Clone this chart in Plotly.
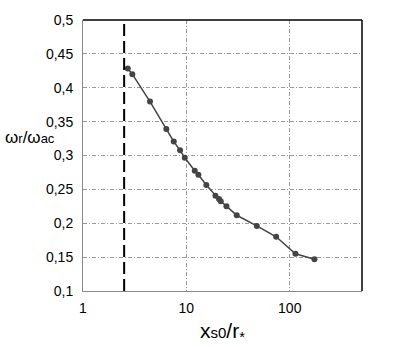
import plotly.graph_objects as go

x_vals = [2.71, 3.0, 4.45, 6.4, 7.55, 8.69, 9.65, 12.05, 13.07, 15.6, 19.1, 20.7, 21.5, 24.4, 30.7, 48.0, 73.9, 113.5, 173.4]
y_vals = [0.4285, 0.420, 0.3796, 0.339, 0.3206, 0.3076, 0.2967, 0.2774, 0.2717, 0.2564, 0.2406, 0.2357, 0.2324, 0.2252, 0.2118, 0.196, 0.180, 0.155, 0.147]
limit_x = 2.5
x_ticks = [1, 10, 100]
x_tick_labels = ["1", "10", "100"]
y_ticks = [0.1, 0.15, 0.2, 0.25, 0.3, 0.35, 0.4, 0.45, 0.5]
y_tick_labels = ["0,1", "0,15", "0,2", "0,25", "0,3", "0,35", "0,4", "0,45", "0,5"]

fig = go.Figure()
fig.add_trace(go.Scatter(
    x=x_vals, y=y_vals, mode="lines+markers",
    line=dict(color="#444444", width=1.5),
    marker=dict(color="#444444", size=6),
    showlegend=False))
fig.add_trace(go.Scatter(
    x=[limit_x, limit_x], y=[0.1, 0.5], mode="lines",
    line=dict(color="black", width=2, dash="12px,5px"),
    showlegend=False))

grid_dash = "4px,2px,1px,2px"
fig.update_xaxes(type="log", range=[0, 2.699], tickvals=x_ticks, ticktext=x_tick_labels,
                 showgrid=True, gridcolor="#999999", griddash=grid_dash, gridwidth=1,
                 showline=True, linecolor="#888888", linewidth=1, mirror=False,
                 ticks="", zeroline=False, ticklabelstandoff=4,
                 tickfont=dict(family="Liberation Sans", size=14, color="black"))
fig.update_yaxes(range=[0.1, 0.5], tickvals=y_ticks, ticktext=y_tick_labels,
                 showgrid=True, gridcolor="#999999", griddash=grid_dash, gridwidth=1,
                 showline=True, linecolor="#888888", linewidth=1, mirror=False,
                 ticks="", zeroline=False, ticklabelstandoff=6,
                 tickfont=dict(family="Liberation Sans", size=14, color="black"))

# top and right black frame lines
fig.add_shape(type="line", xref="paper", yref="paper", x0=0, x1=1, y0=1, y1=1,
              line=dict(color="black", width=1.5))
fig.add_shape(type="line", xref="paper", yref="paper", x0=1, x1=1, y0=0, y1=1,
              line=dict(color="black", width=1.5))

fig.add_annotation(xref="paper", yref="paper", x=-0.287, y=0.568, xanchor="left", yanchor="middle",
                   text="ω<span style='font-size:13px'>r</span>/ω<span style='font-size:13px'>ac</span>",
                   showarrow=False, font=dict(family="Liberation Sans", size=17, color="black"))
fig.add_annotation(xref="paper", yref="paper", x=0.5, y=-0.15, xanchor="center", yanchor="middle",
                   text="x<span style='font-size:15px'>s0</span>/r<sub>*</sub>",
                   showarrow=False, font=dict(family="Liberation Sans", size=21, color="black"))

fig.update_layout(width=415, height=347, margin=dict(l=83, r=53, t=13, b=56),
                  plot_bgcolor="white", paper_bgcolor="white")
fig.write_html("out.html", config={"displayModeBar": False},
               post_script="document.body.style.margin='0px';")
